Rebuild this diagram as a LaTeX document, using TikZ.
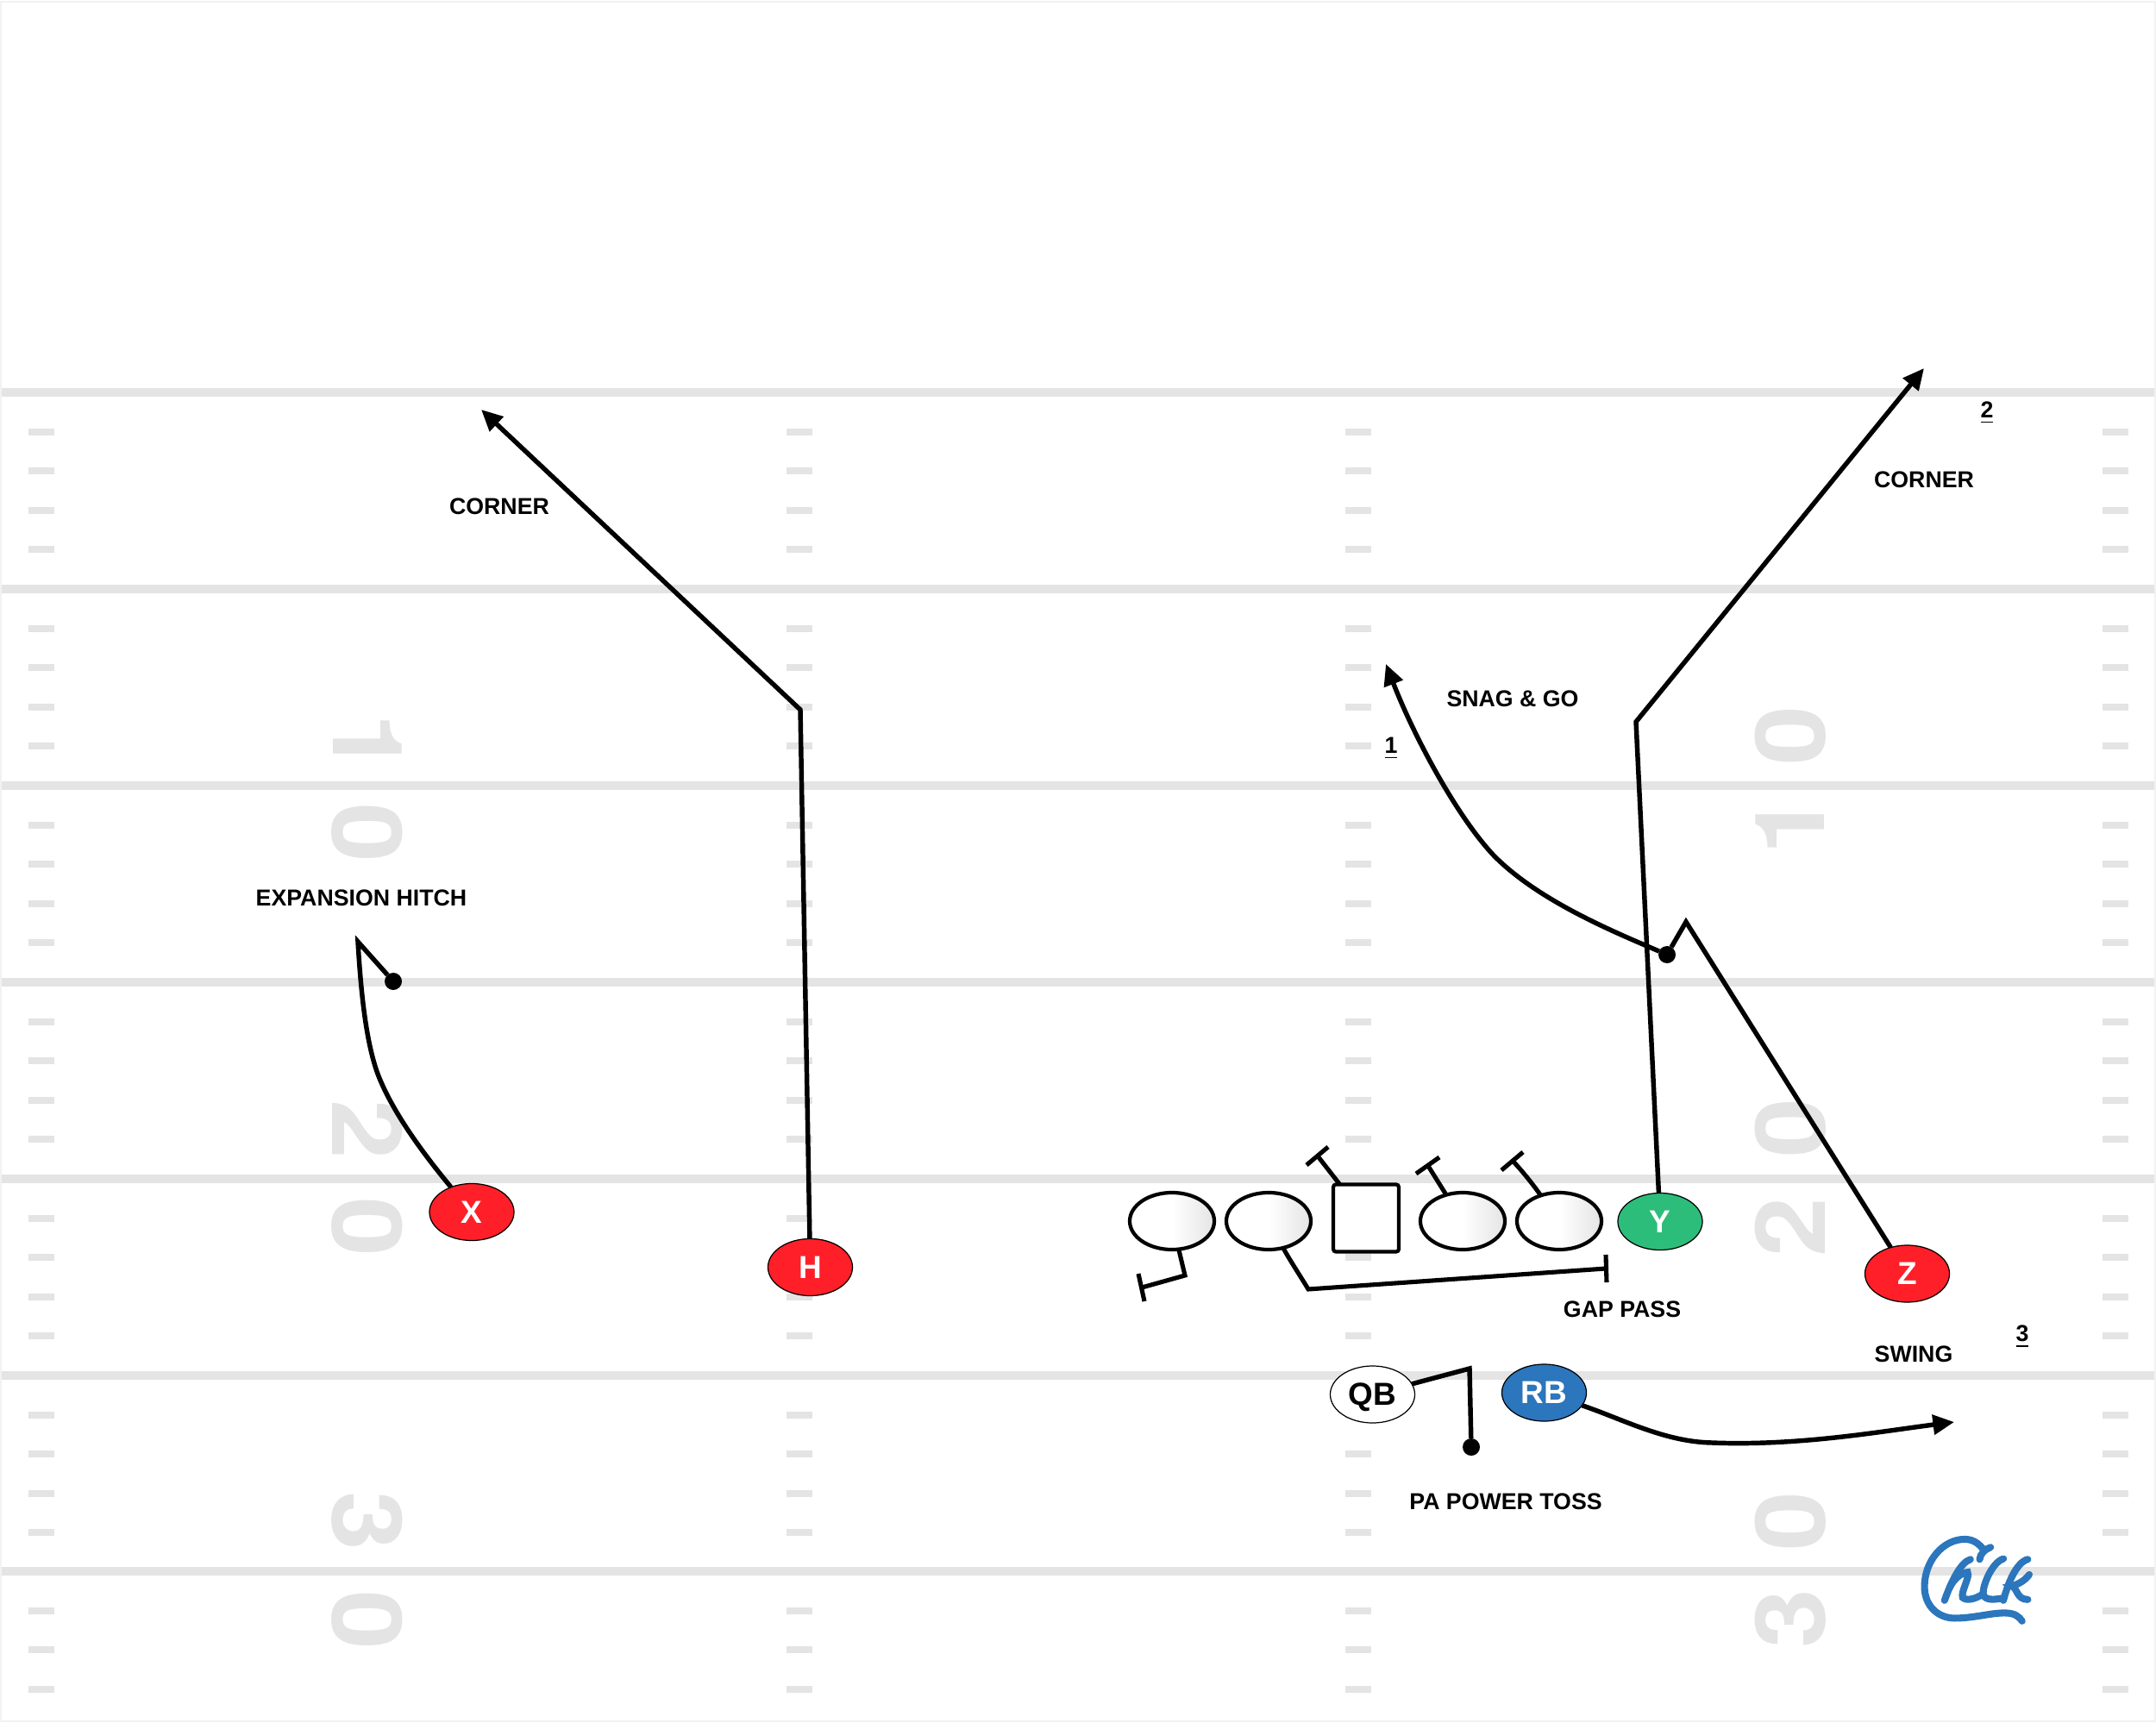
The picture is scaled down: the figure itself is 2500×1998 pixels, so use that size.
\documentclass[tikz,border=0pt]{standalone}
\usepackage{fontspec}
\setmainfont{Liberation Sans}
\newfontfamily\numfont{TeX Gyre Heros}
\usetikzlibrary{arrows.meta,shapes.geometric}
\definecolor{fieldline}{HTML}{E4E4E4}
\definecolor{teamred}{HTML}{FF1F28}
\definecolor{teamgreen}{HTML}{2DBD7B}
\definecolor{teamblue}{HTML}{2B76BC}
\tikzset{
  yardline/.style={draw=none,fill=fieldline},
  hashmark/.style={draw=none,fill=fieldline},
  yardnum/.style={text=fieldline,inner sep=0,outer sep=0,font=\numfont\bfseries\fontsize{32}{32}\selectfont},
  player/.style={ellipse,draw=black,line width=.35pt,inner sep=0,outer sep=0,minimum width=.98cm,minimum height=.66cm,text height=.25cm,text depth=0cm,font=\bfseries\fontsize{10.5}{10.5}\selectfont},
  redp/.style={player,fill=teamred,text=white},
  linep/.style={ellipse,draw=black,line width=1.2pt,inner sep=0,outer sep=0,minimum width=.98cm,minimum height=.66cm,left color=white,right color=fieldline,middle color=white},
  centerp/.style={rectangle,rounded corners=.9pt,draw=black,line width=1.2pt,fill=white,inner sep=0,outer sep=0,minimum width=.76cm,minimum height=.78cm},
  route/.style={draw=black,line width=1.55pt,line join=miter},
  arrowroute/.style={route,-{Triangle[length=7pt,width=6.4pt]}},
  blockline/.style={draw=black,line width=1.45pt},
  enddot/.style={circle,fill=black,inner sep=0,outer sep=0,minimum size=.2cm},
  lbl/.style={inner sep=0,outer sep=0,text=black,font=\bfseries\fontsize{7.6}{9}\selectfont},
  numlbl/.style={inner sep=0,outer sep=0,text=black,font=\bfseries\fontsize{7.6}{9}\selectfont},
  logo/.style={draw=teamblue,line width=2.3pt,line cap=round}
}
\begin{document}
\begin{tikzpicture}[x=0.01cm,y=-0.01cm]
\useasboundingbox (0,0) rectangle (2500,1998);
\draw[draw=fieldline!50,line width=.8pt] (1,2) rectangle (2499,1996);
% yard lines
\foreach \yy in {455,683,911,1139,1367,1595,1822}
  \fill[yardline] (2,\yy-5) rectangle (2498,\yy+5);
% hash marks
\foreach \xx in {33,912,1560,2438}
  \foreach \yy in {455,683,911,1139,1367,1595,1822}
    \foreach \k in {1,2,3,4}
      \fill[hashmark] (\xx,\yy+\k*45.6-4) rectangle (\xx+30,\yy+\k*45.6+4);
% yard numbers
\node[yardnum,rotate=-90] (n1a) at (426,862) {\scalebox{1.1}[1]{1}};
\node[yardnum,rotate=-90] (n1b) at (426,966) {\scalebox{1.1}[1]{0}};
\node[yardnum,rotate=-90] (n2a) at (426,1310) {\scalebox{1.1}[1]{2}};
\node[yardnum,rotate=-90] (n2b) at (426,1423) {\scalebox{1.1}[1]{0}};
\node[yardnum,rotate=-90] (n3a) at (426,1764) {\scalebox{1.1}[1]{3}};
\node[yardnum,rotate=-90] (n3b) at (426,1879) {\scalebox{1.1}[1]{0}};
\node[yardnum,rotate=90] (m1a) at (2076,957) {\scalebox{1.1}[1]{1}};
\node[yardnum,rotate=90] (m1b) at (2076,853) {\scalebox{1.1}[1]{0}};
\node[yardnum,rotate=90] (m2a) at (2076,1423) {\scalebox{1.1}[1]{2}};
\node[yardnum,rotate=90] (m2b) at (2076,1308) {\scalebox{1.1}[1]{0}};
\node[yardnum,rotate=90] (m3a) at (2076,1877) {\scalebox{1.1}[1]{3}};
\node[yardnum,rotate=90] (m3b) at (2076,1764) {\scalebox{1.1}[1]{0}};
% players
\node[redp] (X) at (547,1405.5) {X};
\node[redp] (H) at (939.5,1469.5) {H};
\node[player,fill=teamgreen,text=white] (Y) at (1925,1416.5) {Y};
\node[redp] (Z) at (2211.5,1477) {Z};
\node[player,fill=white,text=black] (QB) at (1591.5,1617) {QB};
\node[player,fill=teamblue,text=white] (RB) at (1790.5,1615) {RB};
\node[linep] (LT) at (1359,1416) {};
\node[linep] (LG) at (1471,1416) {};
\node[centerp] (C) at (1584,1412.5) {};
\node[linep] (RG) at (1696,1416) {};
\node[linep] (RT) at (1808,1416) {};
% end dots
\node[enddot] (dotX) at (456,1138) {};
\node[enddot] (dotZ) at (1933,1107) {};
\node[enddot] (dotQB) at (1706,1678) {};
% route coordinates
\coordinate (Hb) at (928,823);
\coordinate (Ht) at (558,475);
\coordinate (Xa) at (415,1092);
\coordinate (Yb) at (1897,837);
\coordinate (Yt) at (2231,427);
\coordinate (Za) at (1955,1069);
\coordinate (Zt) at (1607,770);
\coordinate (Qa) at (1704,1587);
\coordinate (Rt) at (2266,1649);
% routes
\draw[arrowroute] (H) -- (Hb) -- (Ht);
\draw[route] (X) .. controls (480,1325) and (455,1285) .. (442,1255) .. controls (426,1220) and (419,1160) .. (Xa) -- (dotX);
\draw[arrowroute] (Y) -- (Yb) -- (Yt);
\draw[route] (Z) -- (Za) -- (dotZ);
\draw[arrowroute] (dotZ) .. controls (1870,1080) and (1785,1045) .. (1733,993) .. controls (1690,948) and (1640,855) .. (Zt);
\draw[route] (QB) -- (Qa) -- (dotQB);
\draw[arrowroute] (RB) .. controls (1880,1645) and (1930,1672) .. (1985,1673) .. controls (2085,1677) and (2180,1660) .. (Rt);
% blocks
\coordinate (bC) at (1529,1342);
\coordinate (bC1) at (1540,1330);
\coordinate (bC2) at (1515,1351);
\draw[blockline] (C) -- (bC);
\draw[blockline] (bC1) -- (bC2);
\coordinate (bG) at (1656,1352);
\coordinate (bG1) at (1669,1342);
\coordinate (bG2) at (1642,1361);
\draw[blockline] (RG) -- (bG);
\draw[blockline] (bG1) -- (bG2);
\coordinate (bT) at (1754,1346);
\coordinate (bT1) at (1766,1336);
\coordinate (bT2) at (1741,1357);
\draw[blockline] (RT) .. controls (1775,1370) and (1765,1358) .. (bT);
\draw[blockline] (bT1) -- (bT2);
\coordinate (lT) at (1374,1479);
\coordinate (lTe) at (1324,1493);
\coordinate (lT1) at (1320,1477);
\coordinate (lT2) at (1327,1509);
\draw[blockline] (LT) -- (lT) -- (lTe);
\draw[blockline] (lT1) -- (lT2);
\coordinate (lG) at (1517,1495);
\coordinate (lGe) at (1862,1471);
\coordinate (lG1) at (1862,1455);
\coordinate (lG2) at (1863,1487);
\draw[blockline] (LG) .. controls (1496,1462) and (1508,1480) .. (lG) -- (lGe);
\draw[blockline] (lG1) -- (lG2);
% labels
\node[lbl] (t1) at (579,587) {CORNER};
\node[lbl] (t2) at (419,1041) {EXPANSION HITCH};
\node[lbl] (t3) at (1754,810) {SNAG \& GO};
\node[lbl] (t4) at (2231,556) {CORNER};
\node[lbl] (t5) at (1881,1518) {GAP PASS};
\node[lbl] (t6) at (2219,1570) {SWING};
\node[lbl] (t7) at (1746,1741) {PA POWER TOSS};
\node[numlbl] (t8) at (1613,868) {\underline{1}};
\node[numlbl] (t9) at (2304,479) {\underline{2}};
\node[numlbl] (t10) at (2345,1550) {\underline{3}};
% logo
\begin{scope}[shift={(2150,1740)},x=0.00333cm,y=-0.00333cm]
\draw[logo] (437,205) .. controls (440,185) and (455,170) .. (475,163);
\draw[logo] (450,170) .. controls (430,145) and (410,135) .. (385,135) .. controls (310,135) and (245,210) .. (245,300) .. controls (245,370) and (295,410) .. (350,410) .. controls (420,410) and (480,390) .. (530,392) .. controls (560,393) and (575,405) .. (585,420);
\draw[logo] (405,205) .. controls (370,215) and (335,290) .. (315,348);
\draw[logo] (332,305) .. controls (345,275) and (375,250) .. (395,250) .. controls (405,265) and (370,320) .. (378,338) .. controls (390,350) and (420,345) .. (450,325);
\draw[logo] (520,203) .. controls (480,215) and (445,300) .. (450,328) .. controls (458,350) and (490,345) .. (520,340);
\draw[logo] (605,205) .. controls (565,215) and (535,290) .. (520,348);
\draw[logo] (610,258) .. controls (595,280) and (565,295) .. (548,298) .. controls (570,305) and (565,345) .. (605,345);
\end{scope}
\end{tikzpicture}
\end{document}
